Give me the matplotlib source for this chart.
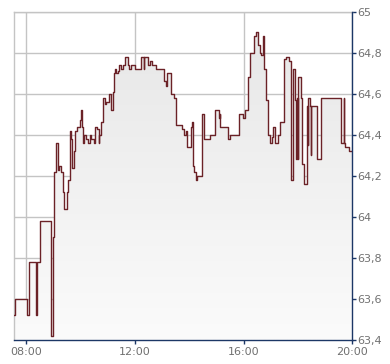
import numpy as np
import matplotlib
matplotlib.use("Agg")
import matplotlib.pyplot as plt
from matplotlib.colors import LinearSegmentedColormap

# Zeit in Stunden (Schrittwerte), Kurs
hours = [7.553, 7.56, 8.007, 8.081, 8.348, 8.377, 8.495, 8.923, 8.982, 9.018,
         9.106, 9.165, 9.216, 9.264, 9.348, 9.385, 9.495, 9.531, 9.593, 9.641,
         9.678, 9.740, 9.802, 9.861, 9.960, 9.996, 10.044, 10.081, 10.125, 10.179,
         10.264, 10.326, 10.388, 10.447, 10.484, 10.535, 10.593, 10.667, 10.692, 10.755,
         10.813, 10.901, 10.938, 11.059, 11.121, 11.179, 11.216, 11.267, 11.304, 11.363,
         11.425, 11.487, 11.546, 11.634, 11.729, 11.791, 11.853, 12.0, 12.220, 12.315,
         12.341, 12.498, 12.560, 12.634, 12.769, 13.073, 13.136, 13.194, 13.341, 13.440,
         13.502, 13.744, 13.806, 13.868, 13.927, 14.051, 14.110, 14.136, 14.172, 14.234,
         14.293, 14.476, 14.538, 14.758, 14.967, 15.088, 15.125, 15.150, 15.418, 15.516,
         15.821, 15.978, 16.066, 16.161, 16.249, 16.396, 16.454, 16.516, 16.590, 16.637,
         16.711, 16.762, 16.835, 16.920, 16.982, 17.040, 17.103, 17.165, 17.286, 17.348,
         17.505, 17.553, 17.689, 17.736, 17.835, 17.897, 17.919, 17.956, 17.993, 18.018,
         18.117, 18.165, 18.227, 18.322, 18.359, 18.385, 18.447, 18.469, 18.505, 18.725,
         18.850, 19.604, 19.703, 19.714, 19.751, 19.875, 20.0]
prices = [63.52, 63.60, 63.52, 63.78, 63.52, 63.78, 63.98, 63.42, 63.90, 64.22,
          64.36, 64.23, 64.25, 64.22, 64.12, 64.04, 64.12, 64.18, 64.42, 64.38,
          64.24, 64.32, 64.42, 64.44, 64.47, 64.52, 64.44, 64.36, 64.40, 64.38,
          64.36, 64.40, 64.38, 64.38, 64.36, 64.44, 64.43, 64.36, 64.40, 64.46,
          64.58, 64.55, 64.56, 64.60, 64.52, 64.61, 64.70, 64.72, 64.70, 64.71,
          64.74, 64.72, 64.74, 64.78, 64.74, 64.72, 64.74, 64.72, 64.78, 64.72,
          64.78, 64.74, 64.76, 64.74, 64.72, 64.66, 64.64, 64.70, 64.60, 64.58,
          64.45, 64.43, 64.40, 64.42, 64.34, 64.44, 64.46, 64.25, 64.22, 64.18,
          64.20, 64.50, 64.38, 64.40, 64.52, 64.48, 64.50, 64.44, 64.38, 64.40,
          64.50, 64.48, 64.52, 64.68, 64.80, 64.88, 64.90, 64.84, 64.80, 64.79,
          64.88, 64.72, 64.57, 64.40, 64.36, 64.39, 64.44, 64.36, 64.40, 64.46,
          64.77, 64.78, 64.76, 64.18, 64.72, 64.57, 64.28, 64.58, 64.28, 64.68,
          64.58, 64.26, 64.16, 64.54, 64.35, 64.58, 64.54, 64.30, 64.54, 64.28,
          64.58, 64.36, 64.58, 64.36, 64.34, 64.32, 64.32]

y_ticks = [63.4, 63.6, 63.8, 64.0, 64.2, 64.4, 64.6, 64.8, 65.0]
x_ticks = [8, 12, 16, 20]
x_labels = ["08:00", "12:00", "16:00", "20:00"]

navy = "#1c3766"
grid_c = "#c4c4c4"
line_c = "#6b2227"
txt_c = "#707070"

fig = plt.figure(figsize=(3.9, 3.64), dpi=100)
ax = fig.add_axes([0.0367, 0.0659, 0.866, 0.902])

x0, x1 = 7.553, 20.0
y0, y1 = 63.4, 65.0

# Flaeche unter der Kurve mit Verlauf
step_x = np.repeat(hours, 2)[1:]
step_y = np.repeat(prices, 2)[:-1]
poly_x = np.concatenate([step_x, [step_x[-1], step_x[0]]])
poly_y = np.concatenate([step_y, [y0, y0]])
patch = ax.fill(poly_x, poly_y, facecolor="none", edgecolor="none")[0]
cmap = LinearSegmentedColormap.from_list("g", ["#fbfbfb", "#e6e6e6"])
grad = np.linspace(0, 1, 256).reshape(-1, 1)
img = ax.imshow(grad, cmap=cmap, aspect="auto", origin="lower",
                extent=[x0, x1, y0, y1], zorder=1)
img.set_clip_path(patch)

ax.step(hours, prices, where="post", color=line_c, lw=1.0, zorder=3)

ax.set_xlim(x0, x1)
ax.set_ylim(y0, y1)
ax.set_xticks(x_ticks)
ax.set_xticklabels(x_labels)
ax.set_yticks(y_ticks)
ax.set_yticklabels([("%g" % v).replace(".", ",") for v in y_ticks])
ax.yaxis.tick_right()
ax.grid(True, color=grid_c, lw=1.0, zorder=0)
ax.set_axisbelow(True)

for s in ("top", "left"):
    ax.spines[s].set_color(grid_c)
    ax.spines[s].set_linewidth(1.0)
for s in ("right", "bottom"):
    ax.spines[s].set_color(navy)
    ax.spines[s].set_linewidth(1.0)
    ax.spines[s].set_zorder(4)

ax.tick_params(axis="both", colors=navy, labelcolor=txt_c, labelsize=8,
               length=3, width=1, pad=1)
ax.tick_params(axis="x", pad=2)

fig.savefig("out.png", dpi=100, facecolor="white")
